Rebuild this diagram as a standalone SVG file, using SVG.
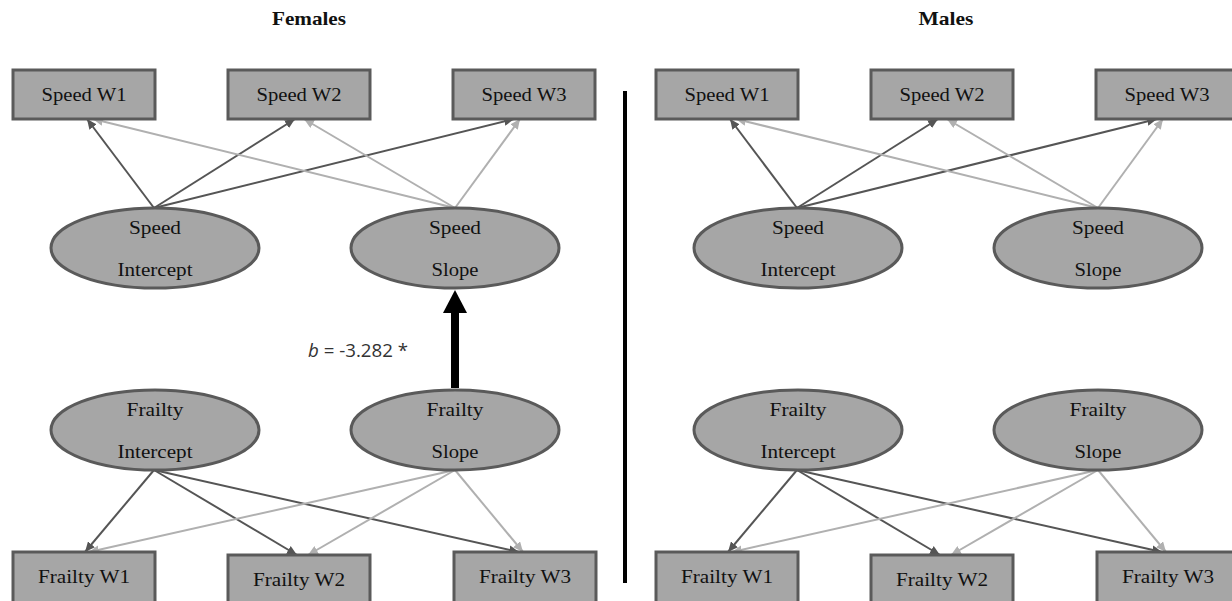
<svg xmlns="http://www.w3.org/2000/svg" width="1232" height="601" viewBox="0 0 1232 601">
<style>
.box{fill:#a6a6a6;stroke:#5a5a5a;stroke-width:3}
.ell{fill:#a6a6a6;stroke:#5a5a5a;stroke-width:3}
.t{font-family:"Liberation Serif","Times New Roman",serif;font-size:19px;fill:#111;text-anchor:middle}
.title{font-family:"Liberation Serif","Times New Roman",serif;font-size:19px;font-weight:bold;fill:#111;text-anchor:middle}
.dk{stroke:#555;stroke-width:2;fill:none;marker-end:url(#hd)}
.lt{stroke:#b0b0b0;stroke-width:2;fill:none;marker-end:url(#hl)}
.lab{font-family:"Open Sans","Liberation Sans",sans-serif;font-size:18px;fill:#333}
</style>
<defs>
<marker id="hd" markerUnits="userSpaceOnUse" markerWidth="11" markerHeight="9" refX="10" refY="4.5" orient="auto"><path d="M0,0 L10,4.5 L0,9 Z" fill="#555"/></marker>
<marker id="hl" markerUnits="userSpaceOnUse" markerWidth="11" markerHeight="9" refX="10" refY="4.5" orient="auto"><path d="M0,0 L10,4.5 L0,9 Z" fill="#b0b0b0"/></marker>
</defs>
<rect width="1232" height="601" fill="#fff"/>

<g id="divider"><line x1="625" y1="91" x2="625" y2="583" stroke="#000" stroke-width="4"/></g>

<!-- Females panel -->
<g id="females">
<g id="f-title"><text class="title" x="309" y="25" textLength="74" lengthAdjust="spacingAndGlyphs">Females</text></g>
<g id="f-connectors">
<line class="dk" x1="154" y1="208" x2="87" y2="119"/>
<line class="dk" x1="154" y1="208" x2="295" y2="119"/>
<line class="dk" x1="154" y1="208" x2="514" y2="119"/>
<line class="lt" x1="455" y1="208" x2="93" y2="119"/>
<line class="lt" x1="455" y1="208" x2="304" y2="119"/>
<line class="lt" x1="455" y1="208" x2="520" y2="119"/>
<line class="dk" x1="154" y1="470" x2="85" y2="552"/>
<line class="dk" x1="154" y1="470" x2="297" y2="555"/>
<line class="dk" x1="154" y1="470" x2="519" y2="552"/>
<line class="lt" x1="455" y1="470" x2="89" y2="552"/>
<line class="lt" x1="455" y1="470" x2="308" y2="555"/>
<line class="lt" x1="455" y1="470" x2="523" y2="552"/>
<g id="f-effect">
<line x1="455" y1="388" x2="455" y2="311" stroke="#000" stroke-width="8"/>
<polygon points="443,313 467,313 455,290" fill="#000"/>
<text class="lab" x="308" y="357" textLength="100" lengthAdjust="spacingAndGlyphs"><tspan font-style="italic">b</tspan> = -3.282 *</text>
</g>
</g>
<g id="f-speed-w1"><rect class="box" x="13" y="70" width="142" height="49"/><text class="t" x="84" y="101" textLength="85" lengthAdjust="spacingAndGlyphs">Speed W1</text></g>
<g id="f-speed-w2"><rect class="box" x="228" y="70" width="142" height="49"/><text class="t" x="299" y="101" textLength="85" lengthAdjust="spacingAndGlyphs">Speed W2</text></g>
<g id="f-speed-w3"><rect class="box" x="453" y="70" width="142" height="49"/><text class="t" x="524" y="101" textLength="85" lengthAdjust="spacingAndGlyphs">Speed W3</text></g>
<g id="f-speed-int"><ellipse class="ell" cx="155" cy="248" rx="104" ry="40"/><text class="t" x="155" y="234" textLength="52" lengthAdjust="spacingAndGlyphs">Speed</text><text class="t" x="155" y="276" textLength="75" lengthAdjust="spacingAndGlyphs">Intercept</text></g>
<g id="f-speed-slope"><ellipse class="ell" cx="455" cy="248" rx="104" ry="40"/><text class="t" x="455" y="234" textLength="52" lengthAdjust="spacingAndGlyphs">Speed</text><text class="t" x="455" y="276" textLength="47" lengthAdjust="spacingAndGlyphs">Slope</text></g>
<g id="f-frailty-int"><ellipse class="ell" cx="155" cy="430" rx="104" ry="40"/><text class="t" x="155" y="416" textLength="57" lengthAdjust="spacingAndGlyphs">Frailty</text><text class="t" x="155" y="458" textLength="75" lengthAdjust="spacingAndGlyphs">Intercept</text></g>
<g id="f-frailty-slope"><ellipse class="ell" cx="455" cy="430" rx="104" ry="40"/><text class="t" x="455" y="416" textLength="57" lengthAdjust="spacingAndGlyphs">Frailty</text><text class="t" x="455" y="458" textLength="47" lengthAdjust="spacingAndGlyphs">Slope</text></g>
<g id="f-frailty-w1"><rect class="box" x="13" y="552" width="142" height="52"/><text class="t" x="84" y="583" textLength="92" lengthAdjust="spacingAndGlyphs">Frailty W1</text></g>
<g id="f-frailty-w2"><rect class="box" x="228" y="555" width="142" height="52"/><text class="t" x="299" y="586" textLength="92" lengthAdjust="spacingAndGlyphs">Frailty W2</text></g>
<g id="f-frailty-w3"><rect class="box" x="454" y="552" width="142" height="52"/><text class="t" x="525" y="583" textLength="92" lengthAdjust="spacingAndGlyphs">Frailty W3</text></g>
</g>

<!-- Males panel -->
<g id="males" transform="translate(643,0)">
<g id="m-title"><text class="title" x="303" y="25" textLength="55" lengthAdjust="spacingAndGlyphs">Males</text></g>
<g id="m-connectors">
<line class="dk" x1="154" y1="208" x2="87" y2="119"/>
<line class="dk" x1="154" y1="208" x2="295" y2="119"/>
<line class="dk" x1="154" y1="208" x2="514" y2="119"/>
<line class="lt" x1="455" y1="208" x2="93" y2="119"/>
<line class="lt" x1="455" y1="208" x2="304" y2="119"/>
<line class="lt" x1="455" y1="208" x2="520" y2="119"/>
<line class="dk" x1="154" y1="470" x2="85" y2="552"/>
<line class="dk" x1="154" y1="470" x2="297" y2="555"/>
<line class="dk" x1="154" y1="470" x2="519" y2="552"/>
<line class="lt" x1="455" y1="470" x2="89" y2="552"/>
<line class="lt" x1="455" y1="470" x2="308" y2="555"/>
<line class="lt" x1="455" y1="470" x2="523" y2="552"/>
</g>
<g id="m-speed-w1"><rect class="box" x="13" y="70" width="142" height="49"/><text class="t" x="84" y="101" textLength="85" lengthAdjust="spacingAndGlyphs">Speed W1</text></g>
<g id="m-speed-w2"><rect class="box" x="228" y="70" width="142" height="49"/><text class="t" x="299" y="101" textLength="85" lengthAdjust="spacingAndGlyphs">Speed W2</text></g>
<g id="m-speed-w3"><rect class="box" x="453" y="70" width="142" height="49"/><text class="t" x="524" y="101" textLength="85" lengthAdjust="spacingAndGlyphs">Speed W3</text></g>
<g id="m-speed-int"><ellipse class="ell" cx="155" cy="248" rx="104" ry="40"/><text class="t" x="155" y="234" textLength="52" lengthAdjust="spacingAndGlyphs">Speed</text><text class="t" x="155" y="276" textLength="75" lengthAdjust="spacingAndGlyphs">Intercept</text></g>
<g id="m-speed-slope"><ellipse class="ell" cx="455" cy="248" rx="104" ry="40"/><text class="t" x="455" y="234" textLength="52" lengthAdjust="spacingAndGlyphs">Speed</text><text class="t" x="455" y="276" textLength="47" lengthAdjust="spacingAndGlyphs">Slope</text></g>
<g id="m-frailty-int"><ellipse class="ell" cx="155" cy="430" rx="104" ry="40"/><text class="t" x="155" y="416" textLength="57" lengthAdjust="spacingAndGlyphs">Frailty</text><text class="t" x="155" y="458" textLength="75" lengthAdjust="spacingAndGlyphs">Intercept</text></g>
<g id="m-frailty-slope"><ellipse class="ell" cx="455" cy="430" rx="104" ry="40"/><text class="t" x="455" y="416" textLength="57" lengthAdjust="spacingAndGlyphs">Frailty</text><text class="t" x="455" y="458" textLength="47" lengthAdjust="spacingAndGlyphs">Slope</text></g>
<g id="m-frailty-w1"><rect class="box" x="13" y="552" width="142" height="52"/><text class="t" x="84" y="583" textLength="92" lengthAdjust="spacingAndGlyphs">Frailty W1</text></g>
<g id="m-frailty-w2"><rect class="box" x="228" y="555" width="142" height="52"/><text class="t" x="299" y="586" textLength="92" lengthAdjust="spacingAndGlyphs">Frailty W2</text></g>
<g id="m-frailty-w3"><rect class="box" x="454" y="552" width="142" height="52"/><text class="t" x="525" y="583" textLength="92" lengthAdjust="spacingAndGlyphs">Frailty W3</text></g>
</g>
</svg>
